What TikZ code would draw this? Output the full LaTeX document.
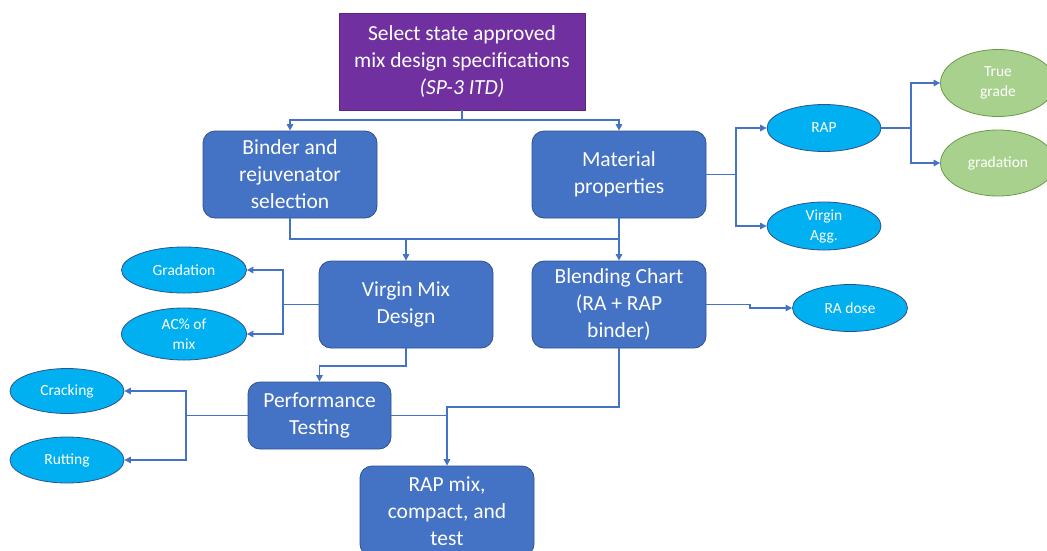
\documentclass[tikz,border=0pt]{standalone}
\usepackage{fontspec}
\setmainfont{Carlito}
\usetikzlibrary{shapes.geometric,arrows.meta}
\definecolor{boxblue}{HTML}{4472C4}
\definecolor{boxedge}{HTML}{2F528F}
\definecolor{purp}{HTML}{7030A0}
\definecolor{cyanfill}{HTML}{00B0F0}
\definecolor{greenfill}{HTML}{A9D18E}
\definecolor{greenedge}{HTML}{6A9A4A}
\tikzset{
  mainbox/.style={rectangle, rounded corners=12pt, fill=boxblue, draw=boxedge, line width=0.8pt,
    text=white, align=center, font=\fontsize{21.5}{27}\selectfont, inner sep=0pt},
  topbox/.style={rectangle, fill=purp, draw=purp!80!black, line width=0.6pt,
    text=white, align=center, font=\fontsize{21.5}{27}\selectfont, inner sep=0pt},
  oval/.style={ellipse, fill=cyanfill, draw=boxedge, line width=0.8pt, text=white,
    align=center, font=\fontsize{15.5}{20}\selectfont, inner sep=0pt},
  greenoval/.style={oval, fill=greenfill, draw=greenedge},
  link/.style={draw=boxblue, line width=1.2pt},
  conn/.style={link, -{Triangle[length=6.5pt,width=6.5pt]}}
}
\begin{document}
\begin{tikzpicture}[x=1pt,y=-1pt]
\useasboundingbox (0,0) rectangle (1047,550);
\clip (0,0) rectangle (1047,550);
% boxes
\node[topbox, minimum width=246pt, minimum height=97pt] (top) at (462,61.5)
  {Select state approved\\mix design specifications\\\textit{(SP-3 ITD)}};
\node[mainbox, minimum width=174pt, minimum height=87pt] (binder) at (290,174.5)
  {Binder and\\rejuvenator\\selection};
\node[mainbox, minimum width=174pt, minimum height=87pt] (material) at (619,174.5)
  {Material\\properties};
\node[mainbox, minimum width=174pt, minimum height=87pt] (virgin) at (406,304.5)
  {Virgin Mix\\Design};
\node[mainbox, minimum width=174pt, minimum height=87pt] (blend) at (619,304.5)
  {Blending Chart\\(RA + RAP\\binder)};
\node[mainbox, minimum width=143pt, minimum height=67pt] (perf) at (319.5,415.5)
  {Performance\\Testing};
\node[mainbox, minimum width=174pt, minimum height=90pt] (rapmix) at (447,511)
  {RAP mix,\\compact, and\\test};
% ellipses
\node[oval, minimum width=114pt, minimum height=47pt] (rap) at (824,128) {RAP};
\node[oval, minimum width=114pt, minimum height=48pt] (vagg) at (824,226) {Virgin\\Agg.};
\node[greenoval, minimum width=115pt, minimum height=67pt] (tg) at (998,83) {True\\grade};
\node[greenoval, minimum width=115pt, minimum height=66pt] (gd) at (998,163) {gradation};
\node[oval, minimum width=115pt, minimum height=47pt] (radose) at (850,308) {RA dose};
\node[oval, minimum width=125pt, minimum height=46pt] (grad) at (184,270) {Gradation};
\node[oval, minimum width=125pt, minimum height=52pt] (ac) at (184,334) {AC\% of\\mix};
\node[oval, minimum width=114pt, minimum height=45pt] (crack) at (67,391) {Cracking};
\node[oval, minimum width=114pt, minimum height=46pt] (rut) at (67,460) {Rutting};
% connectors
\draw[conn] (top.south) -- (top.south |- 0,120) -| (binder.north);
\draw[conn] (top.south) -- (top.south |- 0,120) -| (material.north);
\draw[conn] (binder.south) -- (binder.south |- 0,239) -| (virgin.north);
\draw[link] (binder.south |- 0,239) -- (material.south |- 0,239);
\draw[conn] (material.south) -- (blend.north);
\draw[conn] (material.east) -- (736,174.5) |- (rap.west);
\draw[conn] (material.east) -- (736,174.5) |- (vagg.west);
\draw[conn] (rap.east) -- (911,128) |- (tg.west);
\draw[conn] (rap.east) -- (911,128) |- (gd.west);
\draw[conn] (blend.east) -- (750,304.5) -- (750,308) -- (radose.west);
\draw[conn] (virgin.west) -- (283,304.5) |- (grad.east);
\draw[conn] (virgin.west) -- (283,304.5) |- (ac.east);
\draw[conn] (virgin.south) -- (virgin.south |- 0,366) -| (perf.north);
\draw[conn] (perf.west) -- (186,415.5) |- (crack.east);
\draw[conn] (perf.west) -- (186,415.5) |- (rut.east);
\draw[conn] (blend.south) -- (blend.south |- 0,407) -- (rapmix.north |- 0,407) -- (rapmix.north);
\draw[link] (perf.east) -- (rapmix.north |- perf.east);
\end{tikzpicture}
\end{document}
